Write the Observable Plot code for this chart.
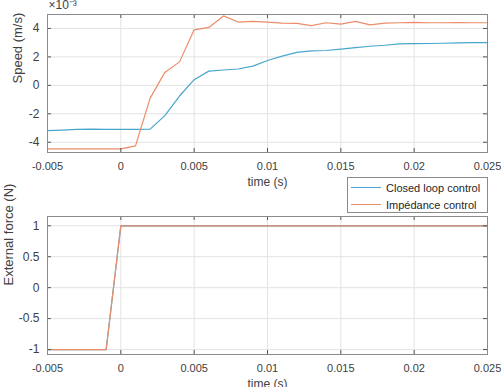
<!DOCTYPE html>
<html>
<head>
<meta charset="utf-8">
<script src="https://cdn.jsdelivr.net/npm/d3@7"></script>
<script src="https://cdn.jsdelivr.net/npm/@observablehq/plot@0.6"></script>
<style>
  body { margin: 0; background: #fff; font-family: "Liberation Sans", Arial, sans-serif; }
  #wrap { position: relative; width: 501px; height: 387px; overflow: hidden; }
  #wrap svg { display: block; }
  #legend { position: absolute; left: 347px; top: 177px; width: 141px; height: 36px; border: 1px solid #8a8a8a; background: #fff; font-size: 11px; color: #262626; box-sizing: border-box; }
  .li { position: absolute; left: 0; height: 17px; display: flex; align-items: center; white-space: nowrap; }
  .li span.sw { display: inline-block; width: 30px; height: 0; border-top: 1.2px solid; margin: 0 5px 0 3px; }
</style>
</head>
<body>
<div id="wrap">
  <div id="topPanel"></div>
  <div id="bottomPanel"></div>
  <div id="legend"></div>
</div>
<script>
// time (s)
const time = [-0.005,-0.004,-0.003,-0.002,-0.001,0,0.001,0.002,0.003,0.004,0.005,0.006,0.007,0.008,0.009,0.010,0.011,0.012,0.013,0.014,0.015,0.016,0.017,0.018,0.019,0.020,0.021,0.022,0.023,0.024,0.025];
// speed, x10^-3 m/s
const closedLoop = [-3.18,-3.15,-3.1,-3.07,-3.09,-3.1,-3.1,-3.08,-2.13,-0.75,0.4,1.0,1.08,1.15,1.35,1.75,2.05,2.32,2.42,2.45,2.55,2.65,2.75,2.82,2.92,2.93,2.94,2.96,2.98,3.0,3.0];
const impedance = [-4.47,-4.47,-4.47,-4.47,-4.47,-4.47,-4.25,-0.9,0.91,1.65,3.9,4.07,4.88,4.45,4.5,4.45,4.38,4.35,4.2,4.4,4.3,4.5,4.25,4.38,4.4,4.42,4.4,4.4,4.41,4.4,4.4];
// external force (N)
const forceTime = [-0.005,-0.001,0,0.025];
const forceValues = [-1,-1,1,1];

const xTicks = [-0.005,0,0.005,0.01,0.015,0.02,0.025];
const xTickLabels = ["-0.005","0","0.005","0.01","0.015","0.02","0.025"];
const speedTicks = [-4,-2,0,2,4];
const forceTicks = [-1,-0.5,0,0.5,1];
const forceTickLabels = ["-1","-0.5","0","0.5","1"];
const seriesNames = ["Closed loop control","Impédance control"];
const colors = ["#48a6cd","#ec8c68"];

const speedData = [];
time.forEach((t,i)=>{ speedData.push({t, v: closedLoop[i], s: seriesNames[0]}); });
time.forEach((t,i)=>{ speedData.push({t, v: impedance[i], s: seriesNames[1]}); });
const forceData = [];
forceTime.forEach((t,i)=>{ forceData.push({t, v: forceValues[i], s: seriesNames[0]}); });
forceTime.forEach((t,i)=>{ forceData.push({t, v: forceValues[i], s: seriesNames[1]}); });

const W = 501;
const textColor = "#404040";
const font = "Liberation Sans, Arial, sans-serif";

function panel({data, height, mt, mb, yDomain, yTicks, yLabels, yLabel, labelDx, extra}) {
  const ml = 47, mr = 14;
  const iw = W - ml - mr, ih = height - mt - mb;
  const fmtX = d => xTickLabels[xTicks.indexOf(d)];
  const fmtY = d => yLabels ? yLabels[yTicks.indexOf(d)] : String(d);
  return Plot.plot({
    width: W, height, marginLeft: ml, marginRight: mr, marginTop: mt, marginBottom: mb,
    style: {fontFamily: font, fontSize: "12px", color: textColor, background: "#fff", overflow: "visible"},
    x: {domain: [-0.005, 0.025]},
    y: {domain: yDomain},
    marks: [
      Plot.gridX(xTicks, {stroke: "#e3e3e3", strokeOpacity: 1}),
      Plot.gridY(yTicks, {stroke: "#e3e3e3", strokeOpacity: 1}),
      Plot.lineY(data, {x: "t", y: "v", stroke: "s", strokeWidth: 1.2}),
      // inward ticks
      Plot.tickX(xTicks, {x: d => d, insetTop: ih - 4, stroke: "#555"}),
      Plot.tickX(xTicks, {x: d => d, insetBottom: ih - 4, stroke: "#555"}),
      Plot.tickY(yTicks, {y: d => d, insetRight: iw - 4, stroke: "#555"}),
      Plot.tickY(yTicks, {y: d => d, insetLeft: iw - 4, stroke: "#555"}),
      Plot.axisX(xTicks, {tickSize: 0, tickPadding: 10, tickFormat: fmtX, label: null, fill: textColor, fontSize: 11}),
      Plot.axisY(yTicks, {tickSize: 0, tickPadding: 8, tickFormat: fmtY, label: null, fill: textColor, fontSize: 12}),
      Plot.text([yLabel], {frameAnchor: "left", dx: labelDx, rotate: -90, fill: textColor, fontSize: 13}),
      Plot.text(["time (s)"], {frameAnchor: "bottom", dy: 33, fill: textColor, fontSize: 12}),
      Plot.frame({stroke: "#8a8a8a", strokeWidth: 1}),
      ...(extra || [])
    ],
    color: {domain: seriesNames, range: colors}
  });
}

const topChart = panel({
  data: speedData, height: 200, mt: 14, mb: 48, labelDx: -30,
  yDomain: [-4.72, 4.98], yTicks: speedTicks, yLabel: "Speed (m/s)",
  extra: [Plot.text(["×10⁻³"], {frameAnchor: "top-left", dy: -6, dx: 1, textAnchor: "start", lineAnchor: "bottom", fill: textColor, fontSize: 12})]
});
document.getElementById("topPanel").appendChild(topChart);

const bottomChart = panel({
  data: forceData, height: 187, mt: 16, mb: 33, labelDx: -39,
  yDomain: [-1.08, 1.15], yTicks: forceTicks, yLabels: forceTickLabels, yLabel: "External force (N)"
});
document.getElementById("bottomPanel").appendChild(bottomChart);

const legend = document.getElementById("legend");
seriesNames.forEach((n,i)=>{
  const row = document.createElement("div");
  row.className = "li";
  row.style.top = (1 + i*17) + "px";
  const sw = document.createElement("span");
  sw.className = "sw";
  sw.style.borderColor = colors[i];
  row.appendChild(sw);
  row.appendChild(document.createTextNode(n));
  legend.appendChild(row);
});
</script>
</body>
</html>
